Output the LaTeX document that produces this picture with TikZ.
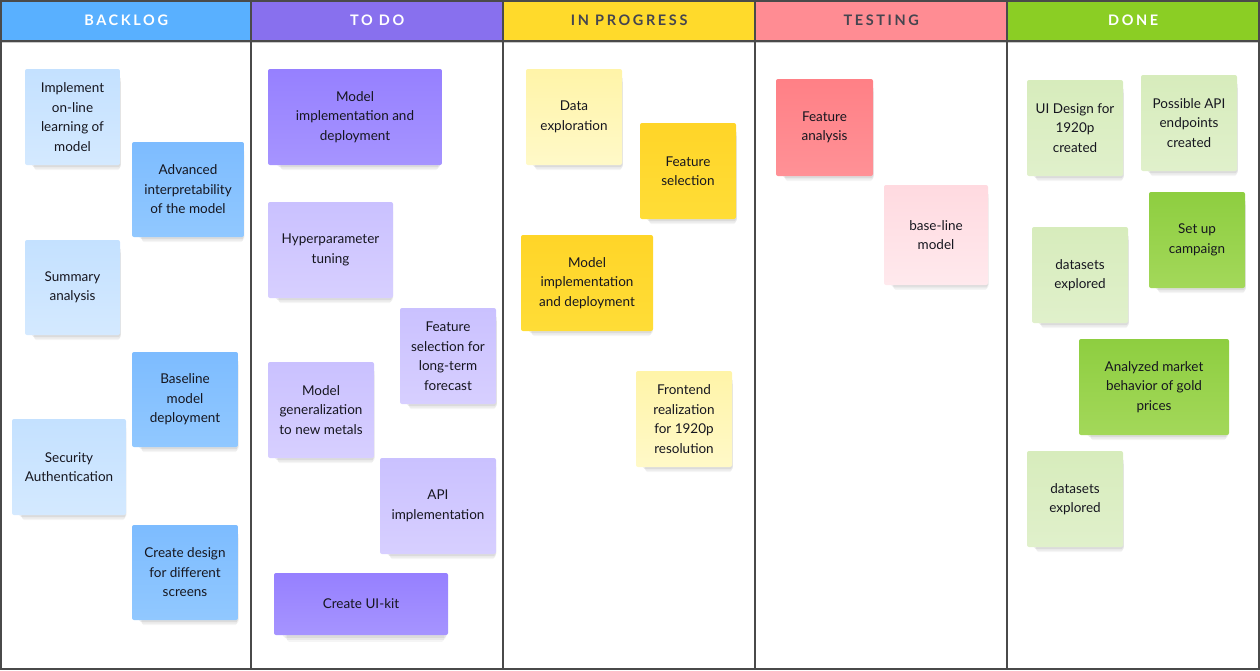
\documentclass[tikz,border=0pt]{standalone}
\usepackage{fontspec}
\setmainfont{Lato}
\newfontfamily\headfont[LetterSpace=18]{Lato}
\usetikzlibrary{shadows}

\definecolor{gridline}{HTML}{4A4A4A}
\definecolor{hdblue}{HTML}{59B0FF}
\definecolor{hdpurple}{HTML}{8870EE}
\definecolor{hdyellow}{HTML}{FFDA2B}
\definecolor{hdpink}{HTML}{FF8C93}
\definecolor{hdgreen}{HTML}{8BCE24}
\definecolor{hdtext}{HTML}{45454F}
\definecolor{notetext}{HTML}{16161F}

\tikzset{
  header/.style={minimum width=252, minimum height=40, inner sep=0, anchor=north west,
    font=\headfont\bfseries\fontsize{14.5}{17}\selectfont},
  grid/.style={draw=gridline, line width=2pt},
  sticky/.style={rounded corners=2pt, inner sep=0, align=center, text=notetext,
    font=\fontsize{13.5}{19.5}\selectfont,
    drop shadow={shadow xshift=5pt, shadow yshift=-11pt, shadow scale=0.9, opacity=0.04, fill=black},
    drop shadow={shadow xshift=5pt, shadow yshift=-8pt, shadow scale=0.92, opacity=0.05, fill=black},
    drop shadow={shadow xshift=4pt, shadow yshift=-5pt, shadow scale=0.94, opacity=0.06, fill=black}},
  bllight/.style={top color={rgb,255:red,196;green,225;blue,255}, bottom color={rgb,255:red,212;green,233;blue,255}},
  blmid/.style={top color={rgb,255:red,125;green,188;blue,255}, bottom color={rgb,255:red,145;green,200;blue,255}},
  pumid/.style={top color={rgb,255:red,150;green,128;blue,255}, bottom color={rgb,255:red,166;green,148;blue,255}},
  pulight/.style={top color={rgb,255:red,202;green,193;blue,255}, bottom color={rgb,255:red,215;green,207;blue,255}},
  yelight/.style={top color={rgb,255:red,255;green,244;blue,168}, bottom color={rgb,255:red,255;green,249;blue,200}},
  yemid/.style={top color={rgb,255:red,255;green,213;blue,40}, bottom color={rgb,255:red,255;green,221;blue,55}},
  pkmid/.style={top color={rgb,255:red,255;green,128;blue,134}, bottom color={rgb,255:red,255;green,145;blue,150}},
  pklight/.style={top color={rgb,255:red,255;green,218;blue,224}, bottom color={rgb,255:red,255;green,233;blue,237}},
  grmid/.style={top color={rgb,255:red,142;green,206;blue,64}, bottom color={rgb,255:red,163;green,216;blue,90}},
  grlight/.style={top color={rgb,255:red,215;green,236;blue,188}, bottom color={rgb,255:red,224;green,240;blue,203}},
}

% name, colour, x1, y1, x2, y2, text
\newcommand{\stickynote}[7]{%
  \node[sticky, #2, minimum width={#5-#3}, minimum height={#6-#4}] (#1)
    at ({(#3+#5)/2},{(#4+#6)/2}) {#7};}

\begin{document}
\begin{tikzpicture}[x=1pt, y=-1pt]
  \useasboundingbox (0,0) rectangle (1260,670);

  % column headers
  \node[header, fill=hdblue, text=white]   (backlog)  at (0,0)    {BACKLOG};
  \node[header, fill=hdpurple, text=white] (todo)     at (251,0)  {TO DO};
  \node[header, fill=hdyellow, text=hdtext] (progress) at (503,0) {IN PROGRESS};
  \node[header, fill=hdpink, text=hdtext]  (testing)  at (755,0)  {TESTING};
  \node[header, fill=hdgreen, text=white]  (done)     at (1007,0) {DONE};

  % board lines
  \draw[gridline!30, line width=1pt] (0,42.5) -- (1260,42.5);
  \draw[grid] (0,41) -- (1260,41);
  \foreach \x in {251,503,755,1007}
    \draw[grid] (\x,0) -- (\x,669);
  \draw[grid] (1,1) rectangle (1259,668.5);

  % backlog
  \stickynote{online}{bllight}{25}{69}{120}{165}{Implement\\on-line\\learning of\\model}
  \stickynote{interpret}{blmid}{132}{142}{244}{237}{Advanced\\interpretability\\of the model}
  \stickynote{summary}{bllight}{25}{240}{120}{335}{Summary\\analysis}
  \stickynote{baseline}{blmid}{132}{352}{238}{447}{Baseline\\model\\deployment}
  \stickynote{security}{bllight}{12}{419}{126}{515}{Security\\Authentication}
  \stickynote{screens}{blmid}{132}{525}{238}{620}{Create design\\for different\\screens}

  % to do
  \stickynote{todoimpl}{pumid}{268}{69}{442}{165}{Model\\implementation and\\deployment}
  \stickynote{hyper}{pulight}{268}{202}{393}{298}{Hyperparameter\\tuning}
  \stickynote{longterm}{pulight}{400}{308}{496}{404}{Feature\\selection for\\long-term\\forecast}
  \stickynote{metals}{pulight}{268}{362}{374}{458}{Model\\generalization\\to new metals}
  \stickynote{api}{pulight}{380}{458}{496}{554}{API\\implementation}
  \stickynote{uikit}{pumid}{274}{573}{448}{635}{Create UI-kit}

  % in progress
  \stickynote{explore}{yelight}{526}{69}{622}{165}{Data\\exploration}
  \stickynote{featsel}{yemid}{640}{123}{736}{219}{Feature\\selection}
  \stickynote{progimpl}{yemid}{521}{235}{653}{331}{Model\\implementation\\and deployment}
  \stickynote{frontend}{yelight}{636}{371}{732}{467}{Frontend\\realization\\for 1920p\\resolution}

  % testing
  \stickynote{featan}{pkmid}{776}{79}{873}{176}{Feature\\analysis}
  \stickynote{baseln}{pklight}{884}{185}{988}{285}{base-line\\model}

  % done
  \stickynote{uidesign}{grlight}{1027}{80}{1123}{176}{UI Design for\\1920p\\created}
  \stickynote{endpoints}{grlight}{1141}{75}{1237}{171}{Possible API\\endpoints\\created}
  \stickynote{campaign}{grmid}{1149}{192}{1245}{288}{Set up\\campaign}
  \stickynote{datasetsa}{grlight}{1032}{227}{1128}{323}{datasets\\explored}
  \stickynote{market}{grmid}{1079}{339}{1229}{435}{Analyzed market\\behavior of gold\\prices}
  \stickynote{datasetsb}{grlight}{1027}{451}{1123}{547}{datasets\\explored}
\end{tikzpicture}
\end{document}
